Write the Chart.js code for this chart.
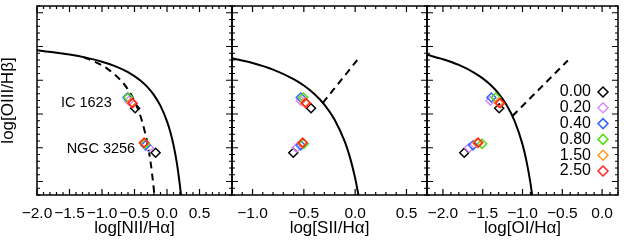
<!DOCTYPE html>
<html>
<head>
<meta charset="utf-8">
<script src="https://cdn.jsdelivr.net/npm/chart.js@4.4.1/dist/chart.umd.min.js"></script>
<style>
  body { margin: 0; background: #fff; }
  #wrap { position: relative; width: 624px; height: 240px; }
  canvas { position: absolute; top: 0; }
</style>
</head>
<body>
<div id="wrap">
  <canvas id="nii" width="240" height="240" style="left:0px"></canvas>
  <canvas id="sii" width="235" height="240" style="left:212px"></canvas>
  <canvas id="oi" width="217" height="240" style="left:407px"></canvas>
</div>
<script>
// series (legend labels) and their colours
const series = ['0.00', '0.20', '0.40', '0.80', '1.50', '2.50'];
const colors = ['#000000', '#d88cff', '#3366ff', '#55dd11', '#ff9922', '#ff2222'];

// log[OIII/Hb] for both galaxies, one value per series
const oiiiIC = [0.085, 0.196, 0.244, 0.244, 0.171, 0.161];
const oiiiNGC = [-0.575, -0.50, -0.464, -0.442, -0.427, -0.425];

// x values per panel
const niiIC = [-0.49, -0.585, -0.61, -0.595, -0.545, -0.53];
const niiNGC = [-0.175, -0.28, -0.33, -0.34, -0.35, -0.355];
const siiIC = [-0.43, -0.53, -0.53, -0.505, -0.49, -0.479];
const siiNGC = [-0.603, -0.569, -0.53, -0.50, -0.515, -0.511];
const oiIC = [-1.293, -1.403, -1.391, -1.335, -1.30, -1.281];
const oiNGC = [-1.732, -1.671, -1.622, -1.507, -1.57, -1.556];

// demarcation lines
const niiMax = [[-2.0, 0.943], [-1.75, 0.915], [-1.5, 0.88], [-1.25, 0.835], [-1.0, 0.775], [-0.8, 0.71],
  [-0.6, 0.62], [-0.4, 0.489], [-0.3, 0.398], [-0.2, 0.28], [-0.1, 0.12], [0.0, -0.108], [0.05, -0.262],
  [0.1, -0.459], [0.15, -0.716], [0.2, -1.069], [0.215, -1.2]];
const niiKauff = [[-1.28, 0.841], [-1.1, 0.77], [-0.9, 0.658], [-0.7, 0.487], [-0.6, 0.362], [-0.5, 0.191],
  [-0.4, -0.056], [-0.3, -0.443], [-0.25, -0.733], [-0.2, -1.14], [-0.194, -1.2]];
const siiMax = [[-1.2, 0.826], [-1.0, 0.755], [-0.8, 0.657], [-0.6, 0.517], [-0.5, 0.422], [-0.4, 0.30],
  [-0.3, 0.139], [-0.2, -0.085], [-0.1, -0.414], [-0.05, -0.646], [0.0, -0.95], [0.032, -1.2]];
const siiSey = [[-0.315, 0.165], [0.02, 0.798]];
const oiMax = [[-2.2, 0.877], [-2.0, 0.812], [-1.8, 0.727], [-1.6, 0.607], [-1.5, 0.528], [-1.4, 0.429],
  [-1.3, 0.302], [-1.2, 0.133], [-1.1, -0.101], [-1.0, -0.45], [-0.95, -0.698], [-0.9, -1.025], [-0.879, -1.2]];
const oiSey = [[-1.126, -0.029], [-0.43, 0.793]];

// tick labels
const niiTicks = [-2.0, -1.5, -1.0, -0.5, 0.0, 0.5];
const siiTicks = [-1.0, -0.5, 0.0, 0.5];
const oiTicks = [-2.0, -1.5, -1.0, -0.5, 0.0];

const notes = [{ text: 'IC 1623', x: -0.85, y: 0.17 }, { text: 'NGC 3256', x: -0.49, y: -0.52 }];

const FONT = '"Liberation Sans", Arial, sans-serif';
Chart.defaults.font.family = FONT;
Chart.defaults.color = '#000';

const fmt = v => (v < 0 ? '\u2212' : '') + Math.abs(v).toFixed(1);

const frame = {
  id: 'frame',
  afterDatasetsDraw(chart) {
    const { ctx, chartArea: a, scales: { x, y } } = chart;
    ctx.save();
    ctx.strokeStyle = '#000';
    ctx.lineWidth = 1.5;
    ctx.strokeRect(a.left, a.top, a.right - a.left, a.bottom - a.top);
    ctx.lineWidth = 1.2;
    ctx.beginPath();
    for (let k = Math.ceil(x.min * 10 - 1e-6); k <= Math.floor(x.max * 10 + 1e-6); k++) {
      const px = x.getPixelForValue(k / 10), len = k % 5 === 0 ? 6 : 3;
      ctx.moveTo(px, a.bottom); ctx.lineTo(px, a.bottom - len);
      ctx.moveTo(px, a.top); ctx.lineTo(px, a.top + len);
    }
    for (let k = Math.ceil(y.min * 10 - 1e-6); k <= Math.floor(y.max * 10 + 1e-6); k++) {
      const py = y.getPixelForValue(k / 10), len = k % 5 === 0 ? 6 : 3;
      ctx.moveTo(a.left, py); ctx.lineTo(a.left + len, py);
      ctx.moveTo(a.right, py); ctx.lineTo(a.right - len, py);
    }
    ctx.stroke();
    ctx.restore();
  }
};

const annot = {
  id: 'annot',
  afterDraw(chart) {
    const { ctx, scales: { x, y } } = chart;
    ctx.save();
    ctx.font = '14.5px ' + FONT;
    ctx.fillStyle = '#000';
    ctx.textAlign = 'right';
    ctx.textBaseline = 'middle';
    notes.forEach(n => ctx.fillText(n.text, x.getPixelForValue(n.x), y.getPixelForValue(n.y)));
    ctx.restore();
  }
};

const legendBox = {
  id: 'legendBox',
  afterDraw(chart) {
    const { ctx, chartArea: a } = chart;
    ctx.save();
    ctx.font = '16px ' + FONT;
    ctx.textAlign = 'right';
    ctx.textBaseline = 'middle';
    chart.data.datasets.filter(d => d.label).forEach((d, i) => {
      const yy = a.top + 86 + i * 15.8, cx = a.right - 15;
      ctx.fillStyle = '#000';
      ctx.fillText(d.label, a.right - 27, yy);
      ctx.strokeStyle = d.borderColor;
      ctx.lineWidth = 1.5;
      ctx.beginPath();
      ctx.moveTo(cx - 5, yy); ctx.lineTo(cx, yy - 5); ctx.lineTo(cx + 5, yy); ctx.lineTo(cx, yy + 5);
      ctx.closePath();
      ctx.stroke();
    });
    ctx.restore();
  }
};

function panel(id, xIC, xNGC, curves, xmin, xmax, ticks, title, pad, extra) {
  const first = id === 'nii';
  const datasets = curves.map(c => ({
    data: c.pts.map(p => ({ x: p[0], y: p[1] })),
    showLine: true, borderColor: '#000', borderWidth: 2, borderDash: c.dash ? [7, 5] : [],
    pointRadius: 0, cubicInterpolationMode: 'monotone', order: 10
  }));
  series.forEach((s, i) => datasets.push({
    label: s,
    data: [{ x: xIC[i], y: oiiiIC[i] }, { x: xNGC[i], y: oiiiNGC[i] }],
    showLine: false, pointStyle: 'rectRot', pointRadius: 4.5, pointBorderWidth: 1.5,
    borderColor: colors[i], backgroundColor: 'rgba(0,0,0,0)', order: series.length - i
  }));
  return new Chart(document.getElementById(id), {
    type: 'scatter',
    data: { datasets },
    options: {
      responsive: false, animation: false, devicePixelRatio: 1,
      layout: { padding: pad },
      plugins: { legend: { display: false }, tooltip: { enabled: false } },
      scales: {
        x: {
          type: 'linear', min: xmin, max: xmax,
          grid: { display: false }, border: { display: false },
          afterBuildTicks: s => { s.ticks = ticks.map(v => ({ value: v })); },
          afterFit: s => { s.height = 45; },
          ticks: { autoSkip: false, maxRotation: 0, padding: 3, font: { size: 15.5, lineHeight: 1 }, callback: v => fmt(v) },
          title: { display: true, text: title, font: { size: 17, lineHeight: 1 }, padding: { top: 0, bottom: 3.5 } }
        },
        y: {
          type: 'linear', min: -1.2, max: 1.6, display: first,
          grid: { display: false }, border: { display: false },
          ticks: { display: false },
          afterFit: s => { s.width = first ? 37 : 0; },
          title: { display: true, text: 'log[OIII/H\u03b2]', font: { size: 17, lineHeight: 1 }, padding: { top: 0, bottom: 20 } }
        }
      }
    },
    plugins: [frame].concat(extra)
  });
}

panel('nii', niiIC, niiNGC, [{ pts: niiMax }, { pts: niiKauff, dash: true }], -2.0, 1.0, niiTicks,
  'log[NII/H\u03b1]', { left: 0, right: 8, top: 1, bottom: 0 }, [annot]);
panel('sii', siiIC, siiNGC, [{ pts: siiMax }, { pts: siiSey, dash: true }], -1.2, 0.7, siiTicks,
  'log[SII/H\u03b1]', { left: 20, right: 20, top: 1, bottom: 0 }, []);
panel('oi', oiIC, oiNGC, [{ pts: oiMax }, { pts: oiSey, dash: true }], -2.2, 0.2, oiTicks,
  'log[OI/H\u03b1]', { left: 20, right: 2, top: 1, bottom: 0 }, [legendBox]);
</script>
</body>
</html>
